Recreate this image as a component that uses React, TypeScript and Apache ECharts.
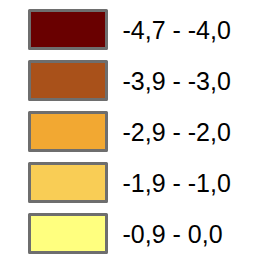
import React, { useEffect, useRef } from "react";
import * as echarts from "echarts";

const categories = ["-4,7 - -4,0", "-3,9 - -3,0", "-2,9 - -2,0", "-1,9 - -1,0", "-0,9 - 0,0"];
const colors = ["#690000", "#a9511a", "#f2a832", "#f9cd55", "#ffff7f"];

export default function App() {
  const ref = useRef<HTMLDivElement>(null);
  useEffect(() => {
    if (!ref.current) return;
    const chart = echarts.init(ref.current, undefined, { renderer: "svg" });
    chart.setOption({
      animation: false,
      backgroundColor: "#ffffff",
      grid: { show: false, left: 0, right: 0, top: 0, bottom: 0 },
      xAxis: { type: "category", show: false, data: ["a"] },
      yAxis: { type: "value", show: false },
      legend: {
        orient: "vertical",
        left: 28,
        top: 9,
        padding: 0,
        height: 271,
        itemWidth: 77,
        itemHeight: 38,
        itemGap: 10,
        icon: "rect",
        selectedMode: false,
        data: categories,
        itemStyle: { borderColor: "#6e6e6e", borderWidth: 3, borderJoin: "round" },
        textStyle: {
          fontFamily: "Liberation Sans, Arial, sans-serif",
          fontSize: 25,
          color: "#000000",
          padding: [8, 0, 0, 11],
        },
      },
      series: categories.map((c, i) => ({
        type: "bar",
        name: c,
        data: [],
        itemStyle: { color: colors[i] },
      })),
    });
    return () => chart.dispose();
  }, []);
  return <div ref={ref} style={{ position: "fixed", left: 0, top: 0, width: 256, height: 271 }} />;
}
